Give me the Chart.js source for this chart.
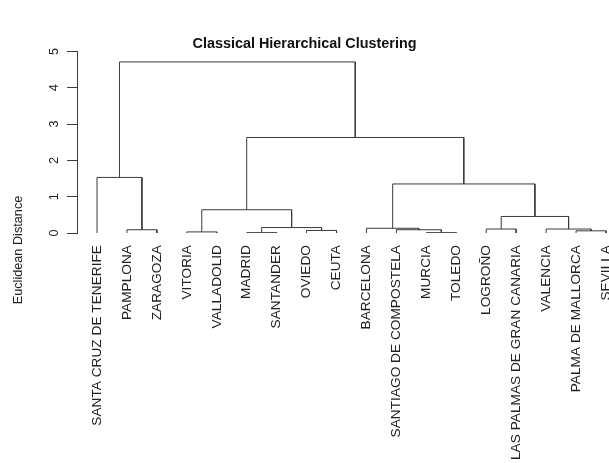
<!DOCTYPE html>
<html>
<head>
<meta charset="utf-8">
<script src="https://cdn.jsdelivr.net/npm/chart.js@4.4.1/dist/chart.umd.min.js"></script>
<style>
  html, body { margin: 0; padding: 0; background: #fff; }
  #c { display: block; }
</style>
</head>
<body>
<canvas id="c" width="609" height="463"></canvas>
<script>
// Leaves in display order
const leaves = ["SANTA CRUZ DE TENERIFE", "PAMPLONA", "ZARAGOZA", "VITORIA", "VALLADOLID",
  "MADRID", "SANTANDER", "OVIEDO", "CEUTA", "BARCELONA", "SANTIAGO DE COMPOSTELA",
  "MURCIA", "TOLEDO", "LOGROÑO", "LAS PALMAS DE GRAN CANARIA", "VALENCIA",
  "PALMA DE MALLORCA", "SEVILLA"];
// Merge table (R hclust convention): negative = leaf -(index+1), positive = earlier merge (1-based)
const mergeA = [-2, -1, -4, -6, -8, 4, 3, -12, -11, -10, -14, -17, -16, 11, 10, 7, 2];
const mergeB = [-3, 1, -5, -7, -9, 5, 6, -13, 8, 9, -15, -18, 12, 13, 14, 15, 16];
const mergeHeight = [0.09, 1.53, 0.03, 0.01, 0.07, 0.15, 0.64, 0.01, 0.09, 0.13, 0.11, 0.06, 0.11, 0.455, 1.35, 2.63, 4.71];
const yTicks = [0, 1, 2, 3, 4, 5];

const titleText = "Classical Hierarchical Clustering";
const yTitle = "Euclidean Distance";
const FONT = "'Liberation Sans', Arial, Helvetica, sans-serif";
const LINE = "#3a3a3a";
const TEXT = "#222";

// Build node positions
const nodeX = [], nodeH = [];
function pos(ref) {
  if (ref < 0) return { x: -ref - 1, h: 0 };
  return { x: nodeX[ref - 1], h: nodeH[ref - 1] };
}
const datasets = [];
for (let k = 0; k < mergeA.length; k++) {
  const a = pos(mergeA[k]), b = pos(mergeB[k]);
  const h = mergeHeight[k];
  nodeX.push((a.x + b.x) / 2);
  nodeH.push(h);
  datasets.push({
    data: [{ x: a.x, y: a.h }, { x: a.x, y: h }, { x: b.x, y: h }, { x: b.x, y: b.h }],
    showLine: true,
    borderColor: LINE,
    borderWidth: 1,
    pointRadius: 0,
    fill: false,
    tension: 0
  });
}

const textPlugin = {
  id: 'textPlugin',
  afterDraw(chart) {
    const ctx = chart.ctx;
    const ys = chart.scales.y;
    ctx.save();
    ctx.fillStyle = TEXT;
    ctx.font = "12.7px " + FONT;
    ctx.textAlign = 'center';
    ctx.textBaseline = 'middle';
    yTicks.forEach(v => {
      const py = ys.getPixelForValue(v);
      ctx.save();
      ctx.translate(54, py);
      ctx.rotate(-Math.PI / 2);
      ctx.fillText(String(v), 0, 0);
      ctx.restore();
    });
    ctx.save();
    ctx.translate(18, 250);
    ctx.rotate(-Math.PI / 2);
    ctx.fillText(yTitle, 0, 0);
    ctx.restore();
    ctx.restore();
  }
};

new Chart(document.getElementById('c'), {
  type: 'scatter',
  data: { datasets },
  plugins: [textPlugin],
  options: {
    responsive: false,
    animation: false,
    devicePixelRatio: 1,
    layout: { padding: { left: 0, right: 0, top: 0, bottom: 0 } },
    plugins: {
      legend: { display: false },
      tooltip: { enabled: false },
      title: {
        display: true,
        text: titleText,
        color: '#111',
        font: { family: FONT, size: 14.4, weight: 'bold', lineHeight: 1 },
        padding: { top: 37, bottom: 0 }
      }
    },
    scales: {
      x: {
        type: 'linear',
        min: -0.668,
        max: 17.1,
        grid: { display: false, drawTicks: false },
        border: { display: false },
        afterBuildTicks: (s) => { s.ticks = leaves.map((_, i) => ({ value: i })); },
        afterFit: (s) => { s.height = 230; s.paddingLeft = 0; s.paddingRight = 0; },
        ticks: {
          autoSkip: false,
          minRotation: 90,
          maxRotation: 90,
          padding: 12,
          color: TEXT,
          font: { family: FONT, size: 13.7 },
          callback: (v) => leaves[Math.round(v)] || ''
        }
      },
      y: {
        min: 0,
        max: 5,
        afterBuildTicks: (s) => { s.ticks = yTicks.map(v => ({ value: v })); },
        afterFit: (s) => { s.width = 77; s.paddingTop = 0; s.paddingBottom = 0; },
        grid: { display: true, drawOnChartArea: false, drawTicks: true, tickLength: 10, color: LINE, lineWidth: 1 },
        border: { display: true, color: LINE, width: 1 },
        ticks: { color: 'rgba(0,0,0,0)', padding: 2, font: { family: FONT, size: 12 } }
      }
    }
  }
});
</script>
</body>
</html>
